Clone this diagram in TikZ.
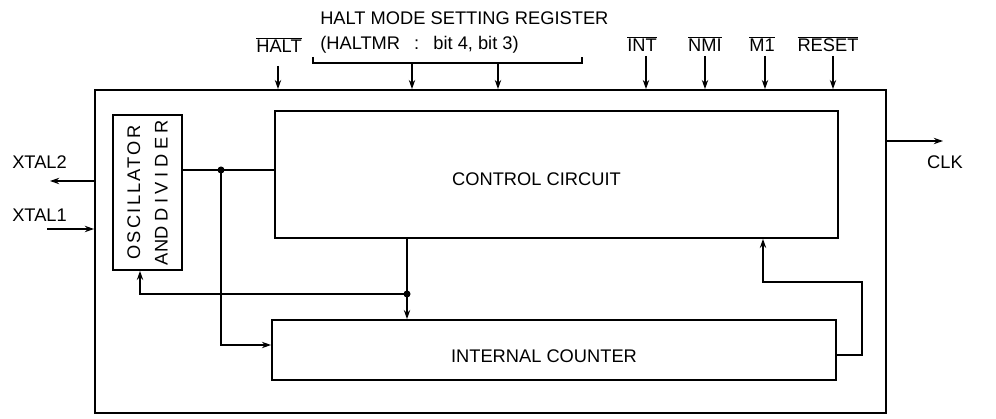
\documentclass[tikz,border=0pt]{standalone}
\usepackage{fontspec}
\setmainfont{Liberation Sans}
\usetikzlibrary{calc, arrows.meta, positioning}
\newcommand{\nsig}[1]{$\overline{\mbox{#1}}$}

\begin{document}
\begin{tikzpicture}[x=0.025cm, y=-0.025cm,
    font=\fontsize{13}{15}\selectfont,
    blk/.style={draw, line width=1.2pt, inner sep=0pt},
    wire/.style={line width=1.2pt},
    sig/.style={line width=1.2pt, -{Stealth[length=6.5pt, width=4.5pt]}},
    jdot/.style={circle, fill, inner sep=0pt, minimum size=5pt},
    pin/.style={anchor=base, inner sep=1pt}
  ]
  \useasboundingbox (0,0) rectangle (996,419);

  % blocks
  \node[blk, minimum width=19.775cm, minimum height=8.075cm] (chip) at (490.5,251.5) {};
  \node[blk, minimum width=1.725cm, minimum height=3.875cm] (osc) at (147.5,192.5) {};
  \node[rotate=90, align=center, font=\fontsize{13}{19.5}\selectfont] (osctxt) at (osc)
    {{\addfontfeature{LetterSpace=12}OSCILLATOR}\\AND {\addfontfeature{LetterSpace=25}DIVIDER}};
  \node[blk, minimum width=14.075cm, minimum height=3.175cm,
    label={[xshift=-0.5cm, yshift=-0.125cm]center:CONTROL CIRCUIT}] (ctrl) at (556.5,174.5) {};
  \node[blk, minimum width=14.1cm, minimum height=1.5cm,
    label={[xshift=-0.25cm, yshift=-0.16cm]center:INTERNAL COUNTER}] (cnt) at (554,350) {};

  % input pins on top
  \node[pin] (halt) at (279,53) {\nsig{HALT}};
  \node[pin] (int) at (642,52) {\nsig{INT}};
  \node[pin] (nmi) at (705,52) {\nsig{NMI}};
  \node[pin] (mone) at (762,52) {\nsig{M1}};
  \node[pin] (reset) at (828,52) {\nsig{RESET}};
  \path ($(halt.base)+(-1,13)$) coordinate (halttop);
  \draw[sig] (halttop) -- (halttop |- chip.north);
  \foreach \p/\dx in {int/4, nmi/0, mone/3, reset/5}{
    \path ($(\p.base)+(\dx,4)$) coordinate (\p top);
    \draw[sig] (\p top) -- (\p top |- chip.north);
  }

  % halt mode register
  \node[anchor=west, inner sep=0pt] (regname) at (320,18) {HALT MODE SETTING REGISTER};
  \node[anchor=west, inner sep=0pt] (regbits) at (320,45) {(HALTMR\hspace{10pt}:\hspace{10pt}bit 4, bit 3)};
  \coordinate (brl) at (313,63);
  \coordinate (brr) at (582,63);
  \draw[wire] ($(brl)+(0,-6)$) -- (brl) -- (brr) -- ($(brr)+(0,-6)$);
  \coordinate (bitf) at (412,63);
  \coordinate (bitt) at (498,63);
  \draw[sig] (bitf) -- (bitf |- chip.north);
  \draw[sig] (bitt) -- (bitt |- chip.north);

  % crystal and clock pins
  \node[anchor=west, inner sep=0pt] (xtwo) at (12,162) {XTAL2};
  \node[anchor=west, inner sep=0pt] (xone) at (12,215) {XTAL1};
  \node[inner sep=0pt] (clk) at (945,162) {CLK};
  \coordinate (xtwoend) at (50,181);
  \coordinate (xonebeg) at (47,229);
  \coordinate (clkend) at (943,141);
  \draw[sig] (xtwoend -| chip.west) -- (xtwoend);
  \draw[sig] (xonebeg) -- (xonebeg -| chip.west);
  \draw[sig] (clkend -| chip.east) -- (clkend);

  % internal connections
  \coordinate (jclk) at (221,170);
  \draw[wire] (jclk -| osc.east) -- (jclk -| ctrl.west);
  \node[jdot] at (jclk) {};
  \draw[sig] (jclk) |- ($(cnt.west)+(0,-5)$);

  \coordinate (jctl) at (407,294);
  \draw[sig] (jctl |- ctrl.south) -- (jctl |- cnt.north);
  \node[jdot] at (jctl) {};
  \draw[sig] (jctl) -| ($(osc.south)+(-7.5,0)$);

  \coordinate (fbr) at (862,282);
  \coordinate (fbl) at (763,282);
  \draw[sig] ($(cnt.east)+(0,5)$) -| (fbr) -- (fbl) -- (fbl |- ctrl.south);
\end{tikzpicture}
\end{document}
